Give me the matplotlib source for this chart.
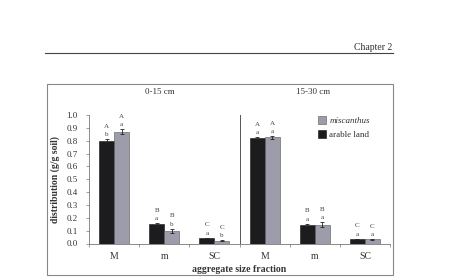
import numpy as np
import matplotlib.pyplot as plt
from matplotlib.patches import Rectangle
from matplotlib.lines import Line2D

plt.rcParams['font.family'] = ['Liberation Serif', 'DejaVu Serif']

# data
categories = ["M", "m", "SC", "M", "m", "SC"]
depths = ["0-15 cm", "15-30 cm"]
arable = [0.80, 0.15, 0.04, 0.82, 0.147, 0.033]
miscanthus = [0.87, 0.10, 0.02, 0.825, 0.145, 0.032]
arable_err = [0.010, 0.010, 0.005, 0.008, 0.008, 0.004]
miscanthus_err = [0.020, 0.015, 0.004, 0.010, 0.020, 0.004]
arable_letters = [("A", "b"), ("B", "a"), ("C", "a"), ("A", "a"), ("B", "a"), ("C", "a")]
miscanthus_letters = [("A", "a"), ("B", "b"), ("C", "b"), ("A", "a"), ("B", "a"), ("C", "a")]

BLACK = "#1c1c1e"
GRAY = "#9c9caa"

fig = plt.figure(figsize=(4.67, 2.79), dpi=100)

# page header
fig.text(392 / 467, 1 - 47 / 279, "Chapter 2", ha="right", va="center", fontsize=7, color="#333333")
fig.add_artist(Line2D([45 / 467, 393 / 467], [1 - 53 / 279] * 2, color="#444444", lw=0.8))
# chart frame
fig.add_artist(Rectangle((47 / 467, 1 - 275 / 279), 346 / 467, 191 / 279,
                         fill=False, ec="#888888", lw=0.8))

ax = fig.add_axes([89 / 467, 1 - 243.5 / 279, 301 / 467, 128.5 / 279])
x = np.arange(len(categories))
w = 0.3
ax.bar(x - w / 2, arable, w, color=BLACK, ec="#111111", lw=0.4,
       yerr=arable_err, error_kw=dict(lw=0.6, capsize=1.2, capthick=0.6, ecolor="#222222"),
       label="arable land")
ax.bar(x + w / 2, miscanthus, w, color=GRAY, ec="#555555", lw=0.4,
       yerr=miscanthus_err, error_kw=dict(lw=0.6, capsize=1.2, capthick=0.6, ecolor="#222222"),
       label="miscanthus")

for i in range(len(categories)):
    for xp, v, e, (up, low) in [(x[i] - w / 2, arable[i], arable_err[i], arable_letters[i]),
                                 (x[i] + w / 2, miscanthus[i], miscanthus_err[i], miscanthus_letters[i])]:
        ax.text(xp, v + e + 0.015, low, ha="center", va="bottom", fontsize=5, color="#444444")
        ax.text(xp, v + e + 0.08, up, ha="center", va="bottom", fontsize=5, color="#444444")

ax.axvline(2.5, color="#555555", lw=0.7)
ax.set_xlim(-0.5, 5.5)
ax.set_ylim(0, 1.0)
ax.set_yticks(np.arange(0, 1.01, 0.1))
ax.set_yticklabels([f"{t:.1f}" for t in np.arange(0, 1.01, 0.1)], fontsize=6.5, color="#333333")
ax.set_xticks(x)
ax.set_xticklabels(categories, fontsize=7, color="#333333")
ax.set_xticks(np.arange(-0.5, 5.6, 1), minor=True)
ax.tick_params(axis="x", which="major", length=0, pad=6)
ax.tick_params(axis="x", which="minor", length=2, width=0.5, color="#777777")
ax.tick_params(axis="y", length=2, width=0.5, color="#777777", pad=6)
for s in ["top", "right"]:
    ax.spines[s].set_visible(False)
for s in ["left", "bottom"]:
    ax.spines[s].set_color("#777777")
    ax.spines[s].set_linewidth(0.6)

ax.set_ylabel("distribution (g/g soil)", fontsize=7, fontweight="bold", color="#333333", labelpad=5)
ax.set_xlabel("aggregate size fraction", fontsize=7, fontweight="bold", color="#333333", labelpad=3)

fig.text(160 / 467, 1 - 92 / 279, depths[0], ha="center", va="center", fontsize=6.5, color="#333333")
fig.text(313 / 467, 1 - 92 / 279, depths[1], ha="center", va="center", fontsize=6.5, color="#333333")

h, l = ax.get_legend_handles_labels()
leg = ax.legend([h[1], h[0]], [l[1], l[0]], loc="upper left", bbox_to_anchor=(0.75, 1.02),
                frameon=False, fontsize=6.5, handlelength=0.9, handleheight=0.9,
                handletextpad=0.3, labelspacing=0.6, borderaxespad=0)
leg.get_texts()[0].set_fontstyle("italic")
for t in leg.get_texts():
    t.set_color("#333333")

fig.savefig("out.png", dpi=100)
